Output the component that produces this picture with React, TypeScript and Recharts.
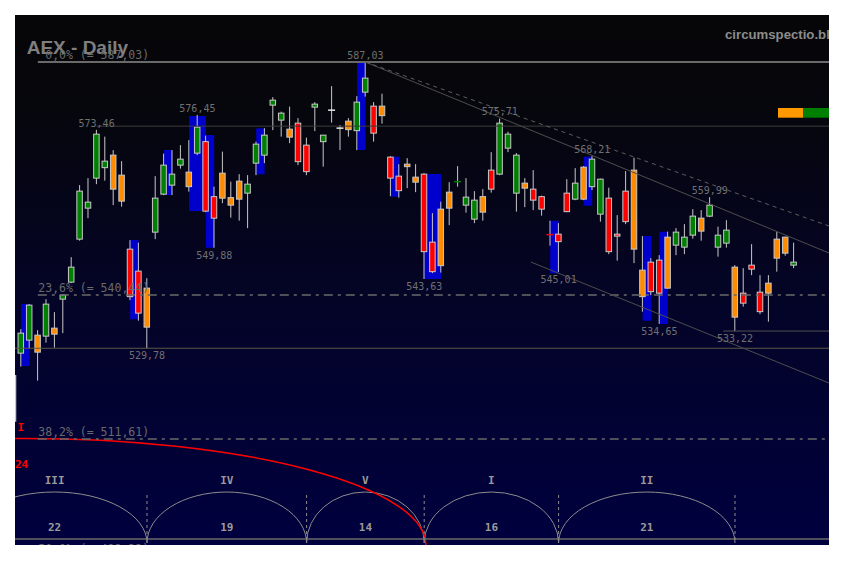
import React from 'react';
import { ComposedChart, Bar, XAxis, YAxis, ReferenceLine, ReferenceArea, ReferenceDot } from 'recharts';

// AEX daily bars, index 0 = first bar on the left
const opens = [528.8, 531.4, 532.4, 532.2, 533.8, 539.6, 543.0, 551.6, 557.8, 563.8, 565.9, 568.4, 564.4, 549.6, 545.2, 541.8, 553.0, 560.6, 562.4, 566.4, 565.0, 568.8, 571.1, 560.1, 564.8, 559.9, 563.2, 560.8, 566.8, 568.4, 578.4, 575.4, 573.6, 574.8, 570.4, 578.0, 571.1, 577.4, 573.8, 575.2, 573.3, 581.0, 578.2, 578.2, 568.0, 564.2, 566.6, 564.0, 564.6, 551.0, 557.6, 561.0, 563.0, 558.4, 559.4, 560.1, 561.6, 564.6, 569.8, 568.4, 562.8, 561.6, 560.1, 552.5, 552.6, 557.1, 562.8, 559.6, 562.1, 563.6, 559.8, 552.6, 561.2, 565.4, 545.4, 547.0, 547.4, 541.8, 550.4, 552.0, 552.4, 553.2, 556.2, 552.4, 553.4, 546.0, 540.8, 546.4, 541.0, 542.8, 547.8, 548.8, 547.0];
const highs = [533.6, 538.6, 533.4, 539.6, 537.0, 540.6, 548.0, 562.4, 563.8, 573.46, 572.1, 569.4, 567.2, 551.4, 550.9, 543.8, 564.2, 568.7, 569.4, 570.4, 571.4, 576.45, 572.3, 562.1, 569.1, 563.1, 564.6, 564.4, 571.1, 573.8, 580.0, 577.1, 578.1, 575.8, 571.9, 579.0, 572.4, 582.2, 574.4, 575.8, 580.2, 587.03, 579.0, 580.7, 568.2, 566.6, 567.8, 566.6, 564.8, 556.8, 559.1, 563.0, 566.2, 563.8, 561.2, 561.6, 569.0, 575.71, 573.1, 568.8, 563.8, 565.4, 560.3, 555.3, 554.8, 563.6, 565.8, 566.2, 568.21, 563.7, 561.9, 556.4, 565.2, 567.9, 552.2, 547.8, 548.4, 553.1, 553.8, 554.6, 557.6, 557.4, 559.99, 554.1, 555.4, 546.4, 545.8, 550.6, 544.4, 544.4, 553.1, 552.1, 550.9];
const lows = [526.1, 529.8, 523.3, 530.9, 529.9, 532.8, 542.8, 551.3, 555.8, 562.6, 563.3, 558.4, 558.1, 539.4, 535.3, 529.78, 551.6, 560.4, 560.4, 565.7, 561.1, 568.4, 557.0, 549.88, 558.8, 555.9, 555.3, 553.8, 564.4, 566.8, 573.4, 572.1, 570.8, 566.4, 564.4, 573.2, 566.1, 574.9, 569.4, 572.1, 569.4, 580.1, 571.1, 574.7, 560.2, 559.9, 561.8, 561.0, 543.63, 544.8, 544.9, 554.4, 562.1, 556.9, 554.8, 555.3, 560.9, 564.4, 569.0, 557.1, 558.0, 557.4, 556.3, 550.3, 545.01, 557.0, 559.4, 559.4, 561.4, 555.1, 548.6, 547.3, 554.6, 546.8, 537.1, 540.4, 534.65, 541.7, 548.4, 548.6, 551.7, 551.3, 556.0, 548.1, 549.9, 533.22, 538.1, 544.4, 536.6, 535.1, 545.1, 548.3, 545.8];
const closes = [532.8, 538.4, 529.0, 538.6, 532.6, 540.4, 546.0, 561.2, 559.0, 572.6, 567.2, 561.6, 559.2, 540.1, 536.8, 534.0, 559.8, 566.4, 564.6, 567.6, 562.1, 574.0, 557.2, 555.8, 559.8, 558.4, 559.6, 562.6, 570.6, 572.4, 579.4, 576.8, 572.0, 567.1, 565.1, 578.6, 572.4, 577.4, 573.8, 573.5, 579.0, 583.8, 572.8, 576.3, 563.8, 561.3, 566.1, 563.0, 549.1, 545.1, 546.3, 557.8, 563.1, 560.0, 555.6, 557.0, 565.4, 574.8, 572.6, 560.8, 561.8, 559.4, 557.6, 552.4, 551.1, 560.8, 559.6, 566.0, 567.6, 556.6, 549.1, 552.2, 555.1, 549.6, 540.1, 541.1, 540.8, 552.0, 553.0, 550.0, 556.2, 555.8, 558.4, 550.0, 550.8, 536.0, 538.8, 545.6, 537.1, 540.8, 551.6, 552.0, 546.4];
// g green, o orange, r red, w white doji
const kinds = 'ggogoggggggoorroggggogrrooogggggorrggwwoggrorroorroogggorgggorrrrrgoggrrroorrogggogggorrrooogggo'.split('');

// blue blocks behind the bars
const blueFrom = [0, 13, 17, 20, 22, 28, 40, 44, 48, 63, 67, 74, 76];
const blueTo = [1, 14, 18, 22, 23, 29, 41, 45, 50, 64, 68, 75, 77];
const blueHigh = [538.63, 551.43, 569.43, 576.23, 572.43, 573.77, 587.03, 568.09, 564.63, 555.29, 568.09, 552.23, 553.09];
const blueLow = [526.23, 535.57, 560.43, 557.23, 549.89, 564.57, 569.43, 560.09, 543.63, 544.77, 558.29, 535.29, 534.63];

// fibonacci retracement
const fibPct = ['0,0%', '23,6%', '38,2%', '50,0%'];
const fibValue = [587.03, 540.44, 511.61, 488.32];

// pivot labels
const topBars = [9, 21, 41, 57, 68, 82];
const topValues = [573.46, 576.45, 587.03, 575.71, 568.21, 559.99];
const bottomBars = [15, 23, 48, 64, 76, 85];
const bottomValues = [529.78, 549.88, 543.63, 545.01, 534.65, 533.22];

// trend lines (bar, price) -> (bar, price)
const trendX1 = [41, 41, 60.7];
const trendY1 = [587.03, 587.03, 547.03];
const trendX2 = [96.19, 96.19, 96.19];
const trendY2 = [548.83, 554.23, 522.83];
const trendDash = ['', '4 4', ''];

// time cycles
const cycleNames = ['III', 'IV', 'V', 'I', 'II'];
const cycleStart = [-7, 15, 34, 48, 64];
const cycleLength = [22, 19, 14, 16, 21];
const cycleTop = 501.03;
const cycleBase = 490.83;
const redCycleStart = -47;
const redCycleEnd = 48.2;
const redCycleTop = 511.73;

const X_MIN = -0.714;
const X_MAX = 96.19;

const data = opens.map((o, i) => ({
  i,
  o,
  h: highs[i],
  l: lows[i],
  c: closes[i],
  kind: kinds[i],
  range: [lows[i], highs[i]],
}));

const bodyFill: Record<string, string> = { g: '#008000', o: '#ff8c00', r: '#ff0000', w: '#e8e8e8' };
const fmt = (v: number) => v.toFixed(2).replace('.', ',');
const mono = '"DejaVu Sans Mono", monospace';

const Candle = (props: any) => {
  const { x, y, width, height, payload } = props;
  if (x == null || y == null || !payload) return null;
  const cx = x + width / 2;
  const yTop = Math.min(y, y + height);
  const yBot = Math.max(y, y + height);
  const span = payload.h - payload.l;
  const py = (v: number) => (span > 0 ? yTop + ((payload.h - v) / span) * (yBot - yTop) : yTop);
  const t = py(Math.max(payload.o, payload.c));
  const b = py(Math.min(payload.o, payload.c));
  const fill = bodyFill[payload.kind];
  return (
    <g>
      <line x1={cx} x2={cx} y1={yTop} y2={yBot} stroke="#c8c8c8" strokeWidth={1} />
      {b - t < 1.5 ? (
        <line x1={cx - 3.5} x2={cx + 3.5} y1={t} y2={t} stroke={fill} strokeWidth={1.5} />
      ) : (
        <rect x={cx - 2.75} y={t} width={5.5} height={b - t} fill={fill} stroke="#c8c8c8" strokeWidth={1} />
      )}
    </g>
  );
};

const arcShape = (stroke: number | string, color: string, name?: string, count?: number) => (p: any) => {
  const { x, y, width, height } = p;
  const base = y + height;
  return (
    <g>
      <path d={`M ${x} ${base} A ${width / 2} ${height} 0 0 1 ${x + width} ${base}`} fill="none" stroke={color} strokeWidth={stroke} />
      {name && (
        <text x={x + width / 2} y={y - 8} textAnchor="middle" fontFamily={mono} fontWeight="bold" fontSize={11} fill="#9a9a9a">
          {name}
        </text>
      )}
      {count != null && (
        <text x={x + width / 2} y={y + 39} textAnchor="middle" fontFamily={mono} fontWeight="bold" fontSize={11} fill="#9a9a9a">
          {count}
        </text>
      )}
    </g>
  );
};

const priceLabel = (text: string, dy: number) => (p: any) => (
  <text x={p.cx} y={p.cy + dy} textAnchor="middle" fontFamily={mono} fontSize={10} fill="#707070">
    {text}
  </text>
);

const fibLabel = (text: string) => (p: any) => (
  <text x={p.cx} y={p.cy - 3} fontFamily={mono} fontSize={11.5} fill="#6a6a6a" style={{ whiteSpace: 'pre' }}>
    {text}
  </text>
);

export default function App() {
  return (
    <div
      style={{
        position: 'absolute',
        left: 15,
        top: 15,
        width: 814,
        height: 530,
        overflow: 'hidden',
        background: 'linear-gradient(to bottom, #060608 0%, #06060e 20%, #040428 55%, #00003f 100%)',
      }}
    >
      <svg width={814} height={530} style={{ position: 'absolute', left: 0, top: 0 }}>
        <text x={11.7} y={39} fontFamily='"Liberation Sans", Arial, sans-serif' fontWeight="bold" fontSize={19} fill="#7f7f7f">
          AEX - Daily
        </text>
        <text x={710} y={24} fontFamily='"Liberation Sans", Arial, sans-serif' fontWeight="bold" fontSize={13.2} fill="#8c8c8c">
          circumspectio.blogspot.com
        </text>
        <rect x={763} y={93} width={25.3} height={9.7} fill="#ff9900" />
        <rect x={788.3} y={93} width={25.7} height={9.7} fill="#008000" />
        <text x={5.8} y={415.7} textAnchor="middle" fontFamily={mono} fontWeight="bold" fontSize={11} fill="#ff0000">
          I
        </text>
        <text x={0} y={453} fontFamily={mono} fontWeight="bold" fontSize={11} fill="#ff0000">
          24
        </text>
      </svg>
      <div style={{ position: 'absolute', left: 0, top: 0 }}>
        <ComposedChart width={814} height={530} data={data} margin={{ top: 0, right: 0, bottom: 0, left: 0 }}>
          <XAxis dataKey="i" type="number" domain={[X_MIN, X_MAX]} allowDataOverflow hide />
          <YAxis type="number" domain={[490.43, 596.43]} allowDataOverflow hide />

          {blueFrom.map((f, k) => (
            <ReferenceArea
              key={`b${k}`}
              x1={f}
              x2={blueTo[k]}
              y1={blueLow[k]}
              y2={blueHigh[k]}
              fill="#0000cd"
              fillOpacity={1}
              stroke="none"
              ifOverflow="visible"
            />
          ))}

          {/* fib levels */}
          <ReferenceLine segment={[{ x: 2, y: fibValue[0] }, { x: X_MAX, y: fibValue[0] }]} stroke="#6a6a6a" strokeWidth={2} ifOverflow="visible" />
          <ReferenceLine segment={[{ x: 2, y: fibValue[1] }, { x: X_MAX, y: fibValue[1] }]} stroke="#6a6a6a" strokeWidth={1.5} strokeDasharray="9 5 3 5" ifOverflow="visible" />
          <ReferenceLine segment={[{ x: 2, y: fibValue[2] }, { x: X_MAX, y: fibValue[2] }]} stroke="#6a6a6a" strokeWidth={1.5} strokeDasharray="9 5 3 5" ifOverflow="visible" />

          {/* support / resistance */}
          <ReferenceLine segment={[{ x: 9, y: 574.2 }, { x: X_MAX, y: 574.2 }]} stroke="#3c3c3c" strokeWidth={1} ifOverflow="visible" />
          <ReferenceLine segment={[{ x: X_MIN, y: 529.78 }, { x: X_MAX, y: 529.78 }]} stroke="#5b5846" strokeWidth={1} ifOverflow="visible" />
          <ReferenceLine segment={[{ x: 83.6, y: 533.22 }, { x: X_MAX, y: 533.22 }]} stroke="#505050" strokeWidth={1} ifOverflow="visible" />
          <ReferenceLine segment={[{ x: X_MIN, y: 491.63 }, { x: X_MAX, y: 491.63 }]} stroke="#6a6a6a" strokeWidth={1.5} ifOverflow="visible" />
          <ReferenceLine segment={[{ x: -0.65, y: 524.43 }, { x: -0.65, y: 515.07 }]} stroke="#c8c8c8" strokeWidth={1.5} ifOverflow="visible" />

          {trendX1.map((x1, k) => (
            <ReferenceLine
              key={`t${k}`}
              segment={[{ x: x1, y: trendY1[k] }, { x: trendX2[k], y: trendY2[k] }]}
              stroke={trendDash[k] ? '#5e5e5e' : '#4e4e4e'}
              strokeWidth={1}
              strokeDasharray={trendDash[k] || undefined}
              ifOverflow="visible"
            />
          ))}

          <Bar dataKey="range" barSize={6} isAnimationActive={false} shape={<Candle />} />

          {/* cycles */}
          {cycleStart.map((s, k) => (
            <ReferenceLine
              key={`cv${k}`}
              segment={[{ x: s + cycleLength[k], y: 500.43 }, { x: s + cycleLength[k], y: cycleBase }]}
              stroke="#8c8c8c"
              strokeWidth={1}
              strokeDasharray="3 3"
              ifOverflow="visible"
            />
          ))}
          {cycleStart.map((s, k) => (
            <ReferenceArea
              key={`c${k}`}
              x1={s}
              x2={s + cycleLength[k]}
              y1={cycleBase}
              y2={cycleTop}
              ifOverflow="visible"
              shape={arcShape(1, '#8c8c8c', cycleNames[k], cycleLength[k])}
            />
          ))}
          <ReferenceArea
            x1={redCycleStart}
            x2={redCycleEnd}
            y1={490.43}
            y2={redCycleTop}
            ifOverflow="visible"
            shape={arcShape(1.5, '#ff0000')}
          />

          {/* labels */}
          {fibPct.map((p, k) => (
            <ReferenceDot
              key={`f${k}`}
              x={2.06}
              y={fibValue[k]}
              r={0}
              ifOverflow="visible"
              shape={fibLabel(`${p.padStart(5)} (= ${fmt(fibValue[k])})`)}
            />
          ))}
          {topBars.map((b, k) => (
            <ReferenceDot key={`h${k}`} x={b} y={topValues[k]} r={0} ifOverflow="visible" shape={priceLabel(fmt(topValues[k]), -3.3)} />
          ))}
          {bottomBars.map((b, k) => (
            <ReferenceDot key={`l${k}`} x={b} y={bottomValues[k]} r={0} ifOverflow="visible" shape={priceLabel(fmt(bottomValues[k]), 10.8)} />
          ))}
        </ComposedChart>
      </div>
    </div>
  );
}
